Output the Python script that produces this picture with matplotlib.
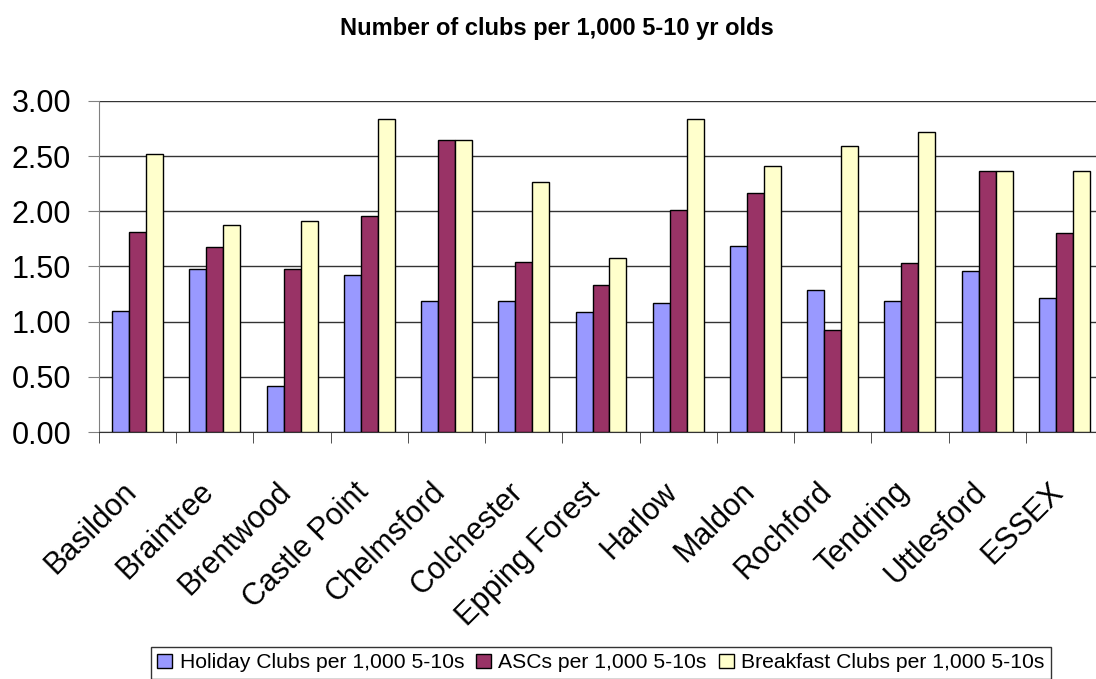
import numpy as np
import matplotlib.pyplot as plt
import matplotlib.transforms as mtransforms
from matplotlib.ticker import FixedLocator

plt.rcParams['font.family'] = ['Liberation Sans', 'DejaVu Sans']

districts = ['Basildon', 'Braintree', 'Brentwood', 'Castle Point', 'Chelmsford',
             'Colchester', 'Epping Forest', 'Harlow', 'Maldon', 'Rochford',
             'Tendring', 'Uttlesford', 'ESSEX']
holiday = [1.10, 1.48, 0.42, 1.42, 1.19, 1.19, 1.09, 1.17, 1.69, 1.29, 1.19, 1.46, 1.21]
ascs = [1.81, 1.68, 1.48, 1.96, 2.65, 1.54, 1.33, 2.01, 2.17, 0.92, 1.53, 2.37, 1.80]
breakfast = [2.52, 1.88, 1.91, 2.84, 2.65, 2.27, 1.58, 2.84, 2.41, 2.59, 2.72, 2.37, 2.37]

series = [
    ('Holiday Clubs per 1,000 5-10s', holiday, '#9999FF'),
    ('ASCs per 1,000 5-10s', ascs, '#993366'),
    ('Breakfast Clubs per 1,000 5-10s', breakfast, '#FFFFCC'),
]

W, H = 1096, 679
fig = plt.figure(figsize=(W / 100, H / 100), dpi=100)
# plot area runs slightly past the right edge of the canvas
ax = fig.add_axes([99 / W, 1 - 432 / H, (1103 - 99) / W, (432 - 101) / H])

x = np.arange(len(districts))
w = 0.22
for i, (name, vals, col) in enumerate(series):
    ax.bar(x + (i - 1) * w, vals, w, color=col, edgecolor='black', linewidth=1, label=name, zorder=3)

ax.set_xlim(-0.5, len(districts) - 0.5)
ax.set_ylim(0, 3.0)
yt = np.arange(0, 3.01, 0.5)
ax.set_yticks(yt)
ax.set_yticklabels(['%.2f' % v for v in yt], fontsize=22)
ax.yaxis.grid(True, color='#333333', linewidth=1, zorder=0)
ax.tick_params(axis='y', length=8, color='#808080', pad=12)

ax.set_xticks(x)
ax.set_xticklabels(districts, rotation=45, ha='right', rotation_mode='anchor', fontsize=22)
ax.tick_params(axis='x', which='major', length=0, pad=32)
ax.xaxis.set_minor_locator(FixedLocator(np.arange(-0.5, len(districts), 1.0)))
ax.tick_params(axis='x', which='minor', length=8, color='#333333', direction='out')
# nudge rotated labels left so their ends sit just before the category centre
shift = mtransforms.ScaledTranslation(-16 / 100, 0, fig.dpi_scale_trans)
for lab in ax.get_xticklabels():
    lab.set_transform(lab.get_transform() + shift)

for s in ['top', 'right']:
    ax.spines[s].set_visible(False)
ax.spines['left'].set_color('#808080')
ax.spines['bottom'].set_color('#333333')

fig.text(557 / W, 1 - 29 / H, 'Number of clubs per 1,000 5-10 yr olds',
         ha='center', va='center', fontsize=17, fontweight='bold')

leg = fig.legend(loc='upper center', bbox_to_anchor=(601 / W, 1 - 647 / H), ncol=3, fontsize=15.2,
                 frameon=True, fancybox=False, edgecolor='black', handlelength=0.7,
                 handleheight=0.7, handletextpad=0.35, columnspacing=0.58, borderpad=0.3,
                 borderaxespad=0)
leg.get_frame().set_linewidth(1)

fig.savefig('out.png', dpi=100)
